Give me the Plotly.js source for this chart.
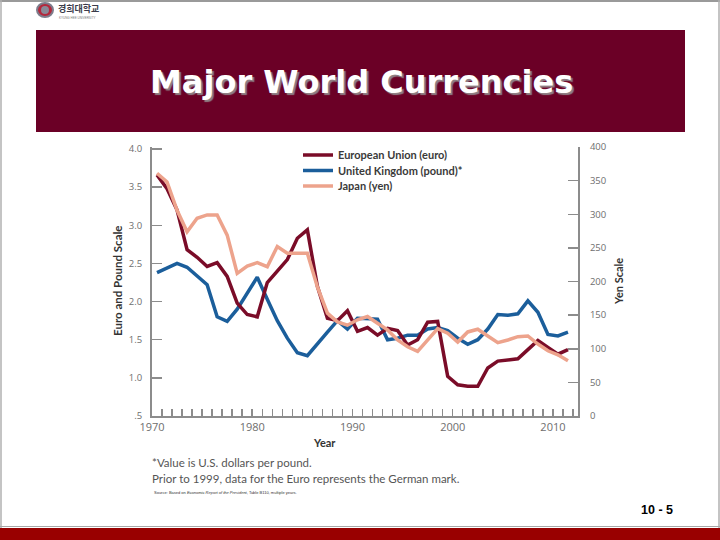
<!DOCTYPE html>
<html>
<head>
<meta charset="utf-8">
<script src="https://cdn.plot.ly/plotly-3.0.1.min.js"></script>
<style>
  html, body { margin: 0; padding: 0; background: #ffffff; }
  #chart { width: 720px; height: 540px; }
</style>
</head>
<body>
<div id="chart"></div>
<script>
// ---- data (annual values) ----
const years = [1970,1971,1972,1973,1974,1975,1976,1977,1978,1979,
               1980,1981,1982,1983,1984,1985,1986,1987,1988,1989,
               1990,1991,1992,1993,1994,1995,1996,1997,1998,1999,
               2000,2001,2002,2003,2004,2005,2006,2007,2008,2009,
               2010,2011];

// European Union (euro; German mark before 1999), US$ per unit — left scale
const euro = [3.66,3.48,3.20,2.68,2.58,2.46,2.51,2.33,1.98,1.83,
              1.80,2.25,2.40,2.55,2.83,2.94,2.20,1.78,1.75,1.88,
              1.61,1.66,1.56,1.65,1.62,1.43,1.50,1.73,1.74,1.02,
              0.91,0.89,0.89,1.13,1.22,1.24,1.25,1.37,1.49,1.40,
              1.31,1.37];

// United Kingdom (pound), US$ per pound — left scale
const pound = [2.38,2.44,2.50,2.45,2.34,2.22,1.80,1.74,1.90,2.12,
               2.32,2.03,1.75,1.52,1.33,1.29,1.45,1.60,1.75,1.64,
               1.78,1.77,1.77,1.50,1.52,1.56,1.56,1.64,1.66,1.62,
               1.52,1.44,1.50,1.64,1.83,1.82,1.84,2.01,1.86,1.57,
               1.55,1.60];

// Japan (yen) — right scale
const yen = [361,348,306,274,294,299,299,269,212,223,
             228,222,252,242,242,242,192,153,140,135,
             143,148,138,128,113,103,96,113,130,123,
             110,125,129,119,109,113,118,119,107,97,
             91,82];

const seriesNames = ["European Union (euro)", "United Kingdom (pound)*", "Japan (yen)"];
const leftTicks = [0.5,1.0,1.5,2.0,2.5,3.0,3.5,4.0];
const leftTickText = [".5","1.0","1.5","2.0","2.5","3.0","3.5","4.0"];
const rightTicks = [0,50,100,150,200,250,300,350,400];
const decadeLabels = [1970,1980,1990,2000,2010];

// annual averages plotted at mid-year
const xMid = years.map(y => y + 0.5);

const yearTicks = [];
for (let y = 1970; y <= 2012; y++) yearTicks.push(y);
const yearTickText = yearTicks.map(y => decadeLabels.includes(y) ? String(y) : "");

const cEuro = "#7a0c28", cPound = "#1b5e9b", cYen = "#eda38c";
const tickGray = "#8c8c8c";

const traces = [
  { x: xMid, y: yen, name: seriesNames[2], type: "scatter", mode: "lines",
    line: { color: cYen, width: 3.5 }, yaxis: "y2", legend: "legend3" },
  { x: xMid, y: pound, name: seriesNames[1], type: "scatter", mode: "lines",
    line: { color: cPound, width: 3.5 }, yaxis: "y", legend: "legend2" },
  { x: xMid, y: euro, name: seriesNames[0], type: "scatter", mode: "lines",
    line: { color: cEuro, width: 3.5 }, yaxis: "y", legend: "legend" }
];

const W = 720, H = 540;
const px = v => v / W;
const py = v => 1 - v / H;

const legendFont = { family: "Lato, 'Open Sans', sans-serif", size: 11, color: "#3a3a3a", weight: "bold" };
const mkLegend = yc => ({
  x: px(298), y: py(yc), xanchor: "left", yanchor: "middle",
  bgcolor: "rgba(0,0,0,0)", font: legendFont, itemwidth: 30
});

const layout = {
  width: W, height: H,
  margin: { l: 0, r: 0, t: 0, b: 0 },
  paper_bgcolor: "#ffffff",
  plot_bgcolor: "rgba(0,0,0,0)",
  showlegend: true,
  legend: mkLegend(155),
  legend2: mkLegend(170.5),
  legend3: mkLegend(186),
  xaxis: {
    domain: [px(152), px(578)],
    range: [1970, 2012.5],
    anchor: "y",
    showgrid: false, zeroline: false,
    showline: true, linecolor: tickGray, linewidth: 2,
    ticks: "inside", ticklen: 7, tickwidth: 1.5, tickcolor: tickGray,
    tickmode: "array", tickvals: yearTicks, ticktext: yearTickText,
    tickfont: { family: "'Open Sans', sans-serif", size: 11, color: "#6e6e6e" },
    fixedrange: true
  },
  yaxis: {
    domain: [py(416), py(147)],
    range: [0.5, 4.0262],
    showgrid: false, zeroline: false,
    showline: true, linecolor: tickGray, linewidth: 2,
    ticks: "inside", ticklen: 10, tickwidth: 1.5, tickcolor: tickGray,
    tickmode: "array", tickvals: leftTicks, ticktext: leftTickText,
    ticklabelstandoff: 6,
    tickfont: { family: "'Open Sans', sans-serif", size: 9.5, color: "#6e6e6e" },
    fixedrange: true
  },
  yaxis2: {
    overlaying: "y", side: "right", anchor: "x",
    range: [0, 400],
    showgrid: false, zeroline: false,
    showline: true, linecolor: tickGray, linewidth: 2,
    ticks: "inside", ticklen: 10, tickwidth: 1.5, tickcolor: tickGray,
    tickmode: "array", tickvals: rightTicks,
    ticklabelstandoff: 8,
    tickfont: { family: "'Open Sans', sans-serif", size: 9.5, color: "#6e6e6e" },
    fixedrange: true
  },
  shapes: [
    // page frame lines
    { type: "line", xref: "paper", yref: "paper", x0: 0, x1: 1, y0: py(1), y1: py(1),
      line: { color: "#9a9a9a", width: 2 } },
    { type: "line", xref: "paper", yref: "paper", x0: px(1), x1: px(1), y0: 0, y1: 1,
      line: { color: "#b0b0b0", width: 1.5 } },
    { type: "line", xref: "paper", yref: "paper", x0: px(719), x1: px(719), y0: 0, y1: 1,
      line: { color: "#b0b0b0", width: 1.5 } },
    // title banner
    { type: "rect", xref: "paper", yref: "paper", x0: px(36), x1: px(685), y0: py(132), y1: py(30),
      fillcolor: "#6b0026", line: { width: 0 }, layer: "below" },
    // bottom bar
    { type: "line", xref: "paper", yref: "paper", x0: 0, x1: 1, y0: py(526.5), y1: py(526.5),
      line: { color: "#a8a8a8", width: 1 } },
    { type: "rect", xref: "paper", yref: "paper", x0: 0, x1: 1, y0: 0, y1: py(528),
      fillcolor: "#990000", line: { width: 0 } },
    // logo emblem
    { type: "circle", xref: "paper", yref: "paper", x0: px(37), x1: px(53), y0: py(17), y1: py(3),
      fillcolor: "#b3283c", line: { color: "#7d7d8c", width: 2 } },
    { type: "circle", xref: "paper", yref: "paper", x0: px(41), x1: px(49), y0: py(14), y1: py(6),
      fillcolor: "#8a8a98", line: { width: 0 } }
  ],
  annotations: [
    // title
    { text: "Major World Currencies", xref: "paper", yref: "paper", x: px(361), y: py(82),
      xanchor: "center", yanchor: "middle", showarrow: false,
      font: { family: "'DejaVu Sans', Verdana, sans-serif", size: 32, color: "#ffffff", weight: "bold",
              shadow: "2px 2px 1px #8f7f85" } },
    // logo text
    { text: "경희대학교", xref: "paper", yref: "paper", x: px(56), y: py(8),
      xanchor: "left", yanchor: "middle", showarrow: false,
      font: { family: "'Noto Sans CJK KR', sans-serif", size: 9, color: "#3b3b4a", weight: "bold" } },
    { text: "KYUNG HEE UNIVERSITY", xref: "paper", yref: "paper", x: px(57), y: py(18),
      xanchor: "left", yanchor: "middle", showarrow: false,
      font: { family: "'Liberation Sans', sans-serif", size: 3, color: "#777777" } },
    // axis titles
    { text: "Euro and Pound Scale", xref: "paper", yref: "paper", x: px(117), y: py(281),
      xanchor: "center", yanchor: "middle", showarrow: false, textangle: -90,
      font: { family: "Lato, 'Open Sans', sans-serif", size: 11.5, color: "#333333", weight: "bold" } },
    { text: "Yen Scale", xref: "paper", yref: "paper", x: px(618), y: py(282),
      xanchor: "center", yanchor: "middle", showarrow: false, textangle: -90,
      font: { family: "Lato, 'Open Sans', sans-serif", size: 11, color: "#333333", weight: "bold" } },
    { text: "Year", xref: "paper", yref: "paper", x: px(324), y: py(442),
      xanchor: "center", yanchor: "middle", showarrow: false,
      font: { family: "Lato, 'Open Sans', sans-serif", size: 11, color: "#333333", weight: "bold" } },
    // footnotes
    { text: "*Value is U.S. dollars per pound.", xref: "paper", yref: "paper", x: px(150), y: py(462),
      xanchor: "left", yanchor: "middle", showarrow: false,
      font: { family: "Lato, 'Open Sans', sans-serif", size: 11.5, color: "#555555" } },
    { text: "Prior to 1999, data for the Euro represents the German mark.", xref: "paper", yref: "paper",
      x: px(150), y: py(478), xanchor: "left", yanchor: "middle", showarrow: false,
      font: { family: "Lato, 'Open Sans', sans-serif", size: 11.5, color: "#555555" } },
    { text: "Source: Based on <i>Economic Report of the President</i>, Table B110, multiple years.", xref: "paper", yref: "paper",
      x: px(152), y: py(492), xanchor: "left", yanchor: "middle", showarrow: false,
      font: { family: "'Liberation Sans', sans-serif", size: 4, color: "#333333" } },
    // page number
    { text: "10 - 5", xref: "paper", yref: "paper", x: px(657), y: py(510),
      xanchor: "center", yanchor: "middle", showarrow: false,
      font: { family: "'Liberation Sans', Arial, sans-serif", size: 12.5, color: "#000000", weight: "bold" } }
  ]
};

Plotly.newPlot("chart", traces, layout, { displayModeBar: false, staticPlot: true });
</script>
</body>
</html>
